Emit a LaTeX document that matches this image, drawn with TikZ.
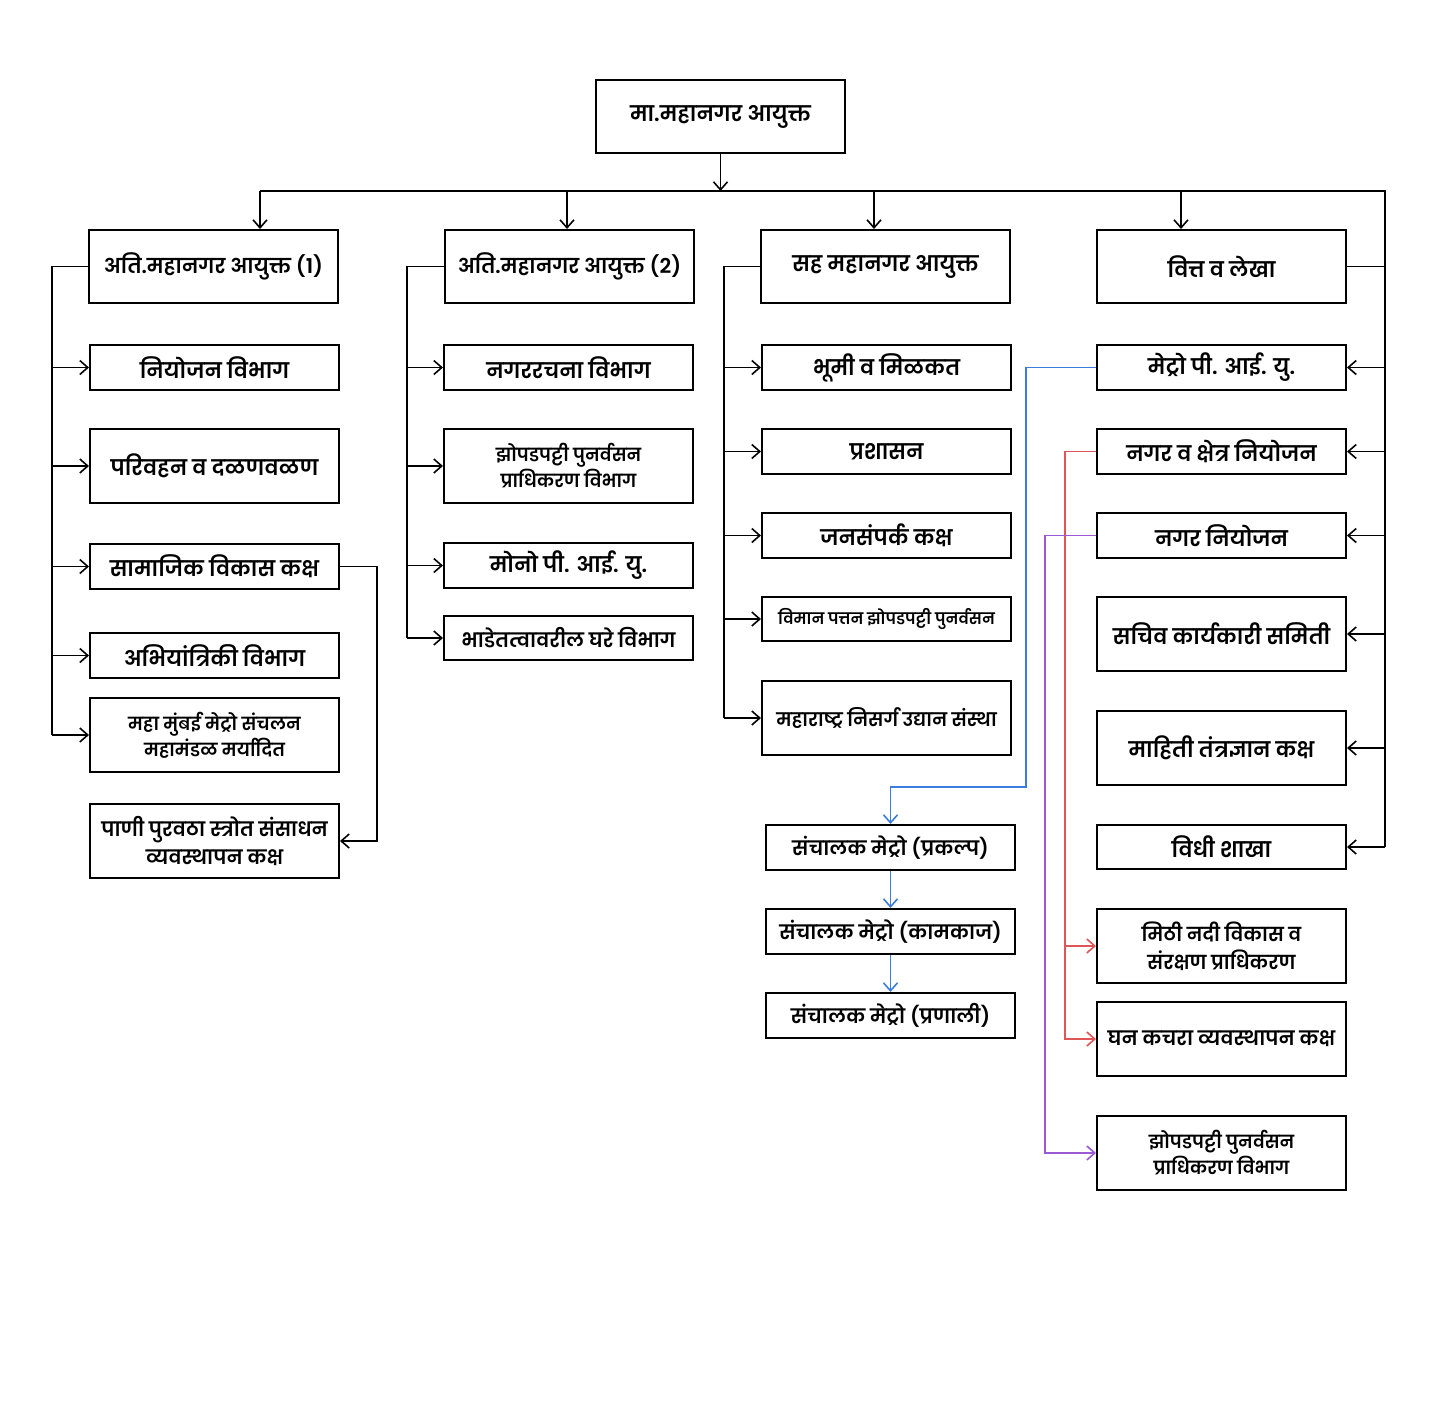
\documentclass[tikz,border=0pt]{standalone}
\usepackage{fontspec}
\setmainfont{Poppins}[Script=Devanagari, UprightFont=* SemiBold]
\usetikzlibrary{arrows.meta}
\definecolor{cblue}{HTML}{3B7DDD}
\definecolor{cred}{HTML}{E05555}
\definecolor{cpurp}{HTML}{9B59D6}
\tikzset{
  box/.style={draw, line width=1pt, inner sep=0pt, align=center, font=\fontsize{10.7}{14}\selectfont},
  conn/.style={line width=0.9pt},
  thin/.style={line width=0.75pt},
  arr/.style={-{Straight Barb[length=4pt,width=7pt,line width=0.8pt]}},
  lvl/.style={font=\fontsize{10.2}{13}\selectfont},
  twoline/.style={font=\fontsize{9}{13}\selectfont},
  twolineb/.style={font=\fontsize{9.6}{14}\selectfont},
  small/.style={font=\fontsize{7.9}{11}\selectfont},
  mid/.style={font=\fontsize{9.9}{14}\selectfont},
  midb/.style={font=\fontsize{9.3}{13}\selectfont},
}
\newcommand\bx[7][]{\node[box,#1,minimum width={(#5-#3)*0.5pt},minimum height={(#6-#4)*0.5pt}] (#2) at ({(#3+#5)/2},{(#4+#6)/2}) {#7};}
\begin{document}
\begin{tikzpicture}[x=0.5pt,y=-0.5pt]
\useasboundingbox (0,0) rectangle (1440,1403);
\fill[white] (0,0) rectangle (1440,1403);
% top
\bx{top}{596}{80}{845}{153}{मा.महानगर आयुक्त}
% level 1
\bx[lvl]{a1}{89}{230}{338}{303}{अति.महानगर आयुक्त (1)}
\bx[lvl]{a2}{445}{230}{694}{303}{अति.महानगर आयुक्त (2)}
\bx{a3}{761}{230}{1010}{303}{सह महानगर आयुक्त}
\bx{a4}{1097}{230}{1346}{303}{वित्त व लेखा}
% col 1
\bx{c11}{90}{345}{339}{390}{नियोजन विभाग}
\bx{c12}{90}{429}{339}{503}{परिवहन व दळणवळण}
\bx{c13}{90}{544}{339}{589}{सामाजिक विकास कक्ष}
\bx{c14}{90}{633}{339}{678}{अभियांत्रिकी विभाग}
\bx[twoline]{c15}{90}{698}{339}{772}{महा मुंबई मेट्रो संचलन\\महामंडळ मर्यादित}
\bx[mid]{c16}{90}{804}{339}{878}{पाणी पुरवठा स्त्रोत संसाधन\\व्यवस्थापन कक्ष}
% col 2
\bx{c21}{444}{345}{693}{390}{नगररचना विभाग}
\bx[twoline]{c22}{444}{429}{693}{503}{झोपडपट्टी पुनर्वसन\\प्राधिकरण विभाग}
\bx{c23}{444}{543}{693}{588}{मोनो पी. आई. यु.}
\bx[mid]{c24}{444}{616}{693}{660}{भाडेतत्वावरील घरे विभाग}
% col 3
\bx{c31}{762}{345}{1011}{390}{भूमी व मिळकत}
\bx{c32}{762}{429}{1011}{474}{प्रशासन}
\bx{c33}{762}{513}{1011}{558}{जनसंपर्क कक्ष}
\bx[small]{c34}{762}{597}{1011}{641}{विमान पत्तन झोपडपट्टी पुनर्वसन}
\bx[midb]{c35}{762}{681}{1011}{755}{महाराष्ट्र निसर्ग उद्यान संस्था}
% metro chain
\bx[mid]{m1}{766}{825}{1015}{870}{संचालक मेट्रो (प्रकल्प)}
\bx[mid]{m2}{766}{909}{1015}{954}{संचालक मेट्रो (कामकाज)}
\bx[mid]{m3}{766}{993}{1015}{1038}{संचालक मेट्रो (प्रणाली)}
% col 4
\bx{d41}{1097}{345}{1346}{390}{मेट्रो पी. आई. यु.}
\bx{d42}{1097}{429}{1346}{474}{नगर व क्षेत्र नियोजन}
\bx{d43}{1097}{513}{1346}{558}{नगर नियोजन}
\bx{d44}{1097}{597}{1346}{671}{सचिव कार्यकारी समिती}
\bx{d45}{1097}{711}{1346}{785}{माहिती तंत्रज्ञान कक्ष}
\bx{d46}{1097}{825}{1346}{869}{विधी शाखा}
\bx[twolineb]{d47}{1097}{909}{1346}{983}{मिठी नदी विकास व\\संरक्षण प्राधिकरण}
\bx[mid]{d48}{1097}{1002}{1346}{1076}{घन कचरा व्यवस्थापन कक्ष}
\bx[twoline]{d49}{1097}{1116}{1346}{1190}{झोपडपट्टी पुनर्वसन\\प्राधिकरण विभाग}
% coordinates
\coordinate (bus) at (720,191);
\coordinate (bL) at (260,191);
\coordinate (bR) at (1385,191);
\coordinate (dr2) at (567,191);
\coordinate (dr3) at (874,191);
\coordinate (dr4) at (1181,191);
\coordinate (r1) at (52,0);
\coordinate (r2) at (407,0);
\coordinate (r3) at (724,0);
\coordinate (r4) at (1385,0);
\coordinate (s1) at (377,0);
\coordinate (bx1) at (1026,787);
\coordinate (rx) at (1065,0);
\coordinate (px) at (1045,0);
% top connectors
\draw[conn,arr] (top.south) -- (top.south |- bus);
\draw[conn] (bL) -- (bR) -- (r4 |- d46.east);
\draw[conn,arr] (bL) -- (bL |- a1.north);
\draw[conn,arr] (dr2) -- (dr2 |- a2.north);
\draw[conn,arr] (dr3) -- (dr3 |- a3.north);
\draw[conn,arr] (dr4) -- (dr4 |- a4.north);
% col 1
\draw[conn] (a1.west) -- (a1.west -| r1) -- (r1 |- c15.west);
\foreach \n in {c11,c12,c13,c14,c15} \draw[thin,arr] (r1 |- \n.west) -- (\n.west);
\draw[conn,arr] (c13.east) -- (c13.east -| s1) -- (s1 |- c16.east) -- (c16.east);
% col 2
\draw[conn] (a2.west) -- (a2.west -| r2) -- (r2 |- c24.west);
\foreach \n in {c21,c22,c23,c24} \draw[thin,arr] (r2 |- \n.west) -- (\n.west);
% col 3
\draw[conn] (a3.west) -- (a3.west -| r3) -- (r3 |- c35.west);
\foreach \n in {c31,c32,c33,c34,c35} \draw[thin,arr] (r3 |- \n.west) -- (\n.west);
% col 4
\draw[conn] (a4.east) -- (a4.east -| r4);
\foreach \n in {d41,d42,d43,d44,d45,d46} \draw[thin,arr] (r4 |- \n.east) -- (\n.east);
% blue
\draw[conn,cblue,arr] (d41.west) -- (d41.west -| bx1) -- (bx1) -- (bx1 -| m1.north) -- (m1.north);
\draw[conn,cblue,arr] (m1.south) -- (m2.north);
\draw[conn,cblue,arr] (m2.south) -- (m3.north);
% red
\draw[conn,cred,arr] (d42.west) -- (d42.west -| rx) -- (rx |- d48.west) -- (d48.west);
\draw[conn,cred,arr] (rx |- d47.west) -- (d47.west);
% purple
\draw[conn,cpurp,arr] (d43.west) -- (d43.west -| px) -- (px |- d49.west) -- (d49.west);
\end{tikzpicture}
\end{document}
